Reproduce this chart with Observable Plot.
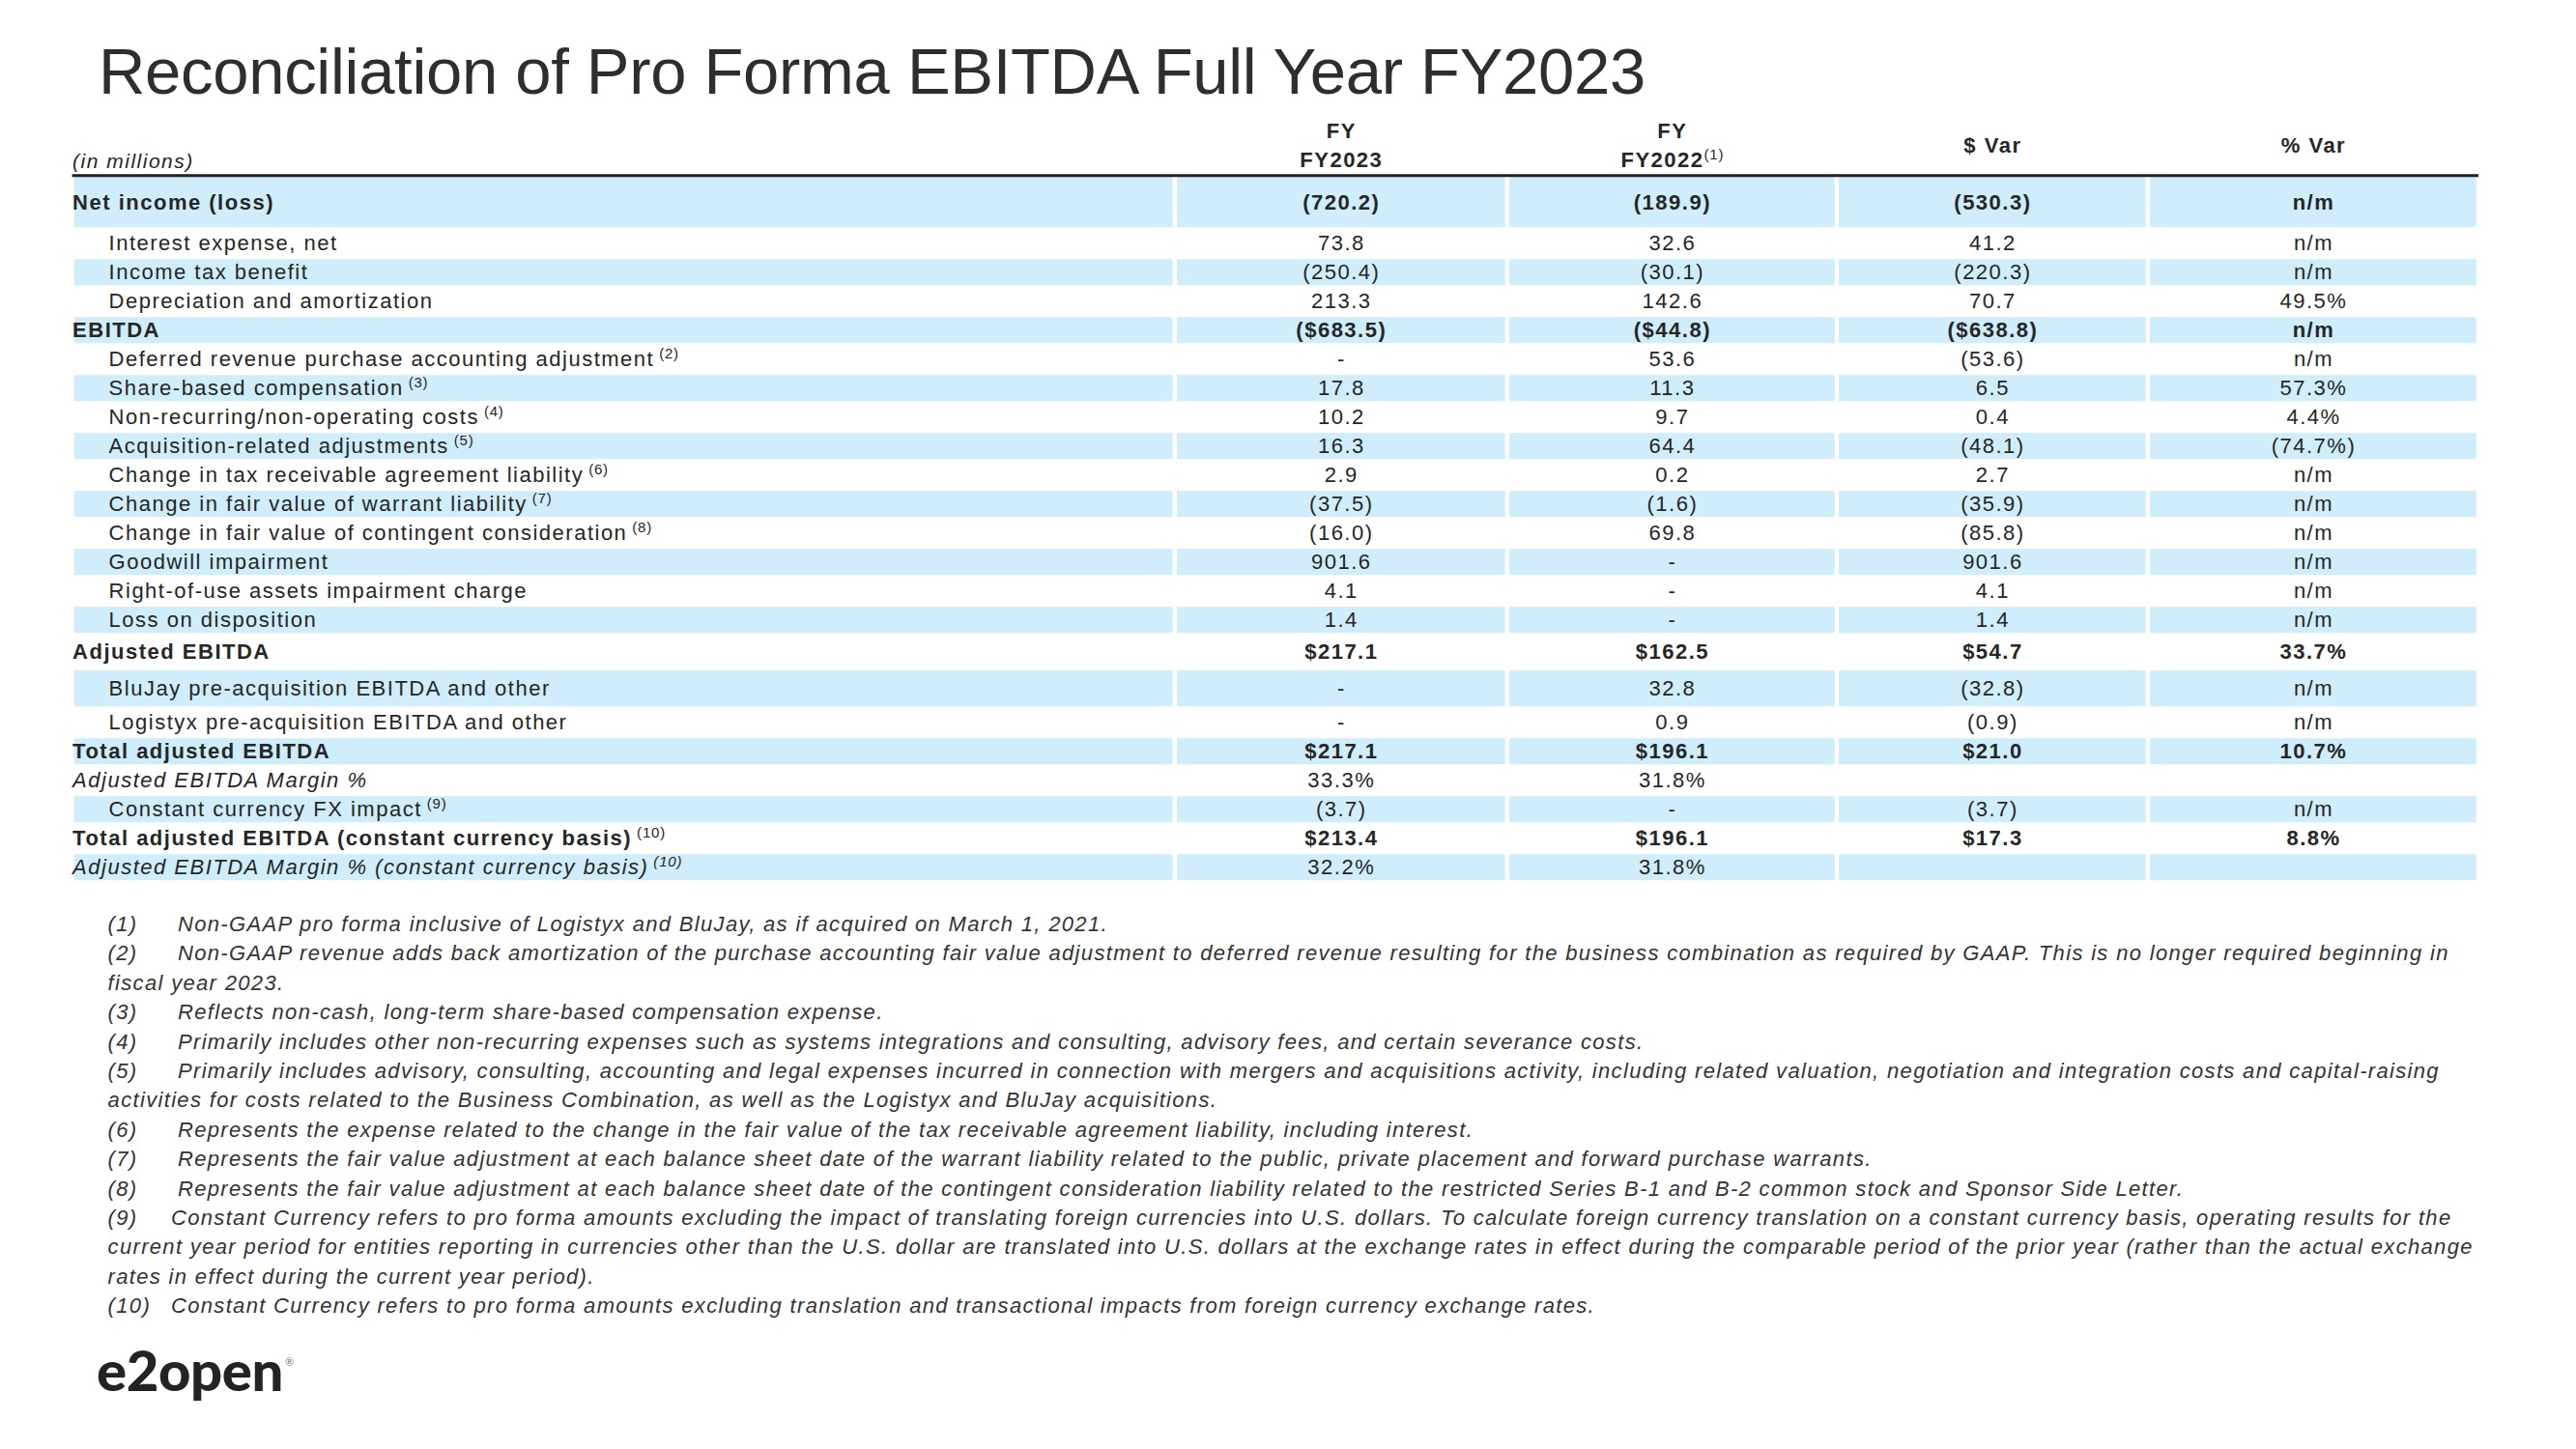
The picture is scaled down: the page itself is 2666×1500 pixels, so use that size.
<!DOCTYPE html>
<html>
<head>
<meta charset="utf-8">
<script src="https://cdn.jsdelivr.net/npm/d3@7"></script>
<script src="https://cdn.jsdelivr.net/npm/@observablehq/plot@0.6"></script>
<style>
  html, body { margin: 0; padding: 0; background: #fff; }
  #page { position: relative; width: 2666px; height: 1500px; overflow: hidden; font-family: 'Liberation Sans', Arial, sans-serif; }
  #title { position: absolute; left: 102px; top: 40px; font-size: 67px; line-height: 67px; letter-spacing: -0.3px; color: #2e2e2e; white-space: nowrap; }
  #table { position: absolute; left: 0; top: 115px; width: 2666px; }
  #notes { position: absolute; left: 111.6px; top: 942px; font-style: italic; font-size: 22px; line-height: 30.4px; letter-spacing: 1.33px; color: #333; }
  #notes .line { white-space: pre; height: 30.4px; }
  #notes .num { display: inline-block; }
  #logo { position: absolute; left: 100px; top: 1389px; font-family: Lato, Roboto, 'Liberation Sans', sans-serif; font-weight: 900; font-size: 58px; line-height: 58px; letter-spacing: -0.4px; color: #232323; white-space: nowrap; }
  #logo .reg { font-size: 11px; font-weight: 400; color: #777; position: relative; top: -26px; margin-left: 2px; letter-spacing: 0; }
</style>
</head>
<body>
<div id="page">
  <div id="title"></div>
  <div id="table"></div>
  <div id="notes"></div>
  <div id="logo">e2open<span class="reg">®</span></div>
</div>
<script>
// ---------------- DATA ----------------
const title = "Reconciliation of Pro Forma EBITDA Full Year FY2023";
const unitNote = "(in millions)";
const columns = ["FY2023", "FY2022", "$ Var", "% Var"];
const columnHeaders = ["FY\nFY2023", "FY\nFY2022", "$ Var", "% Var"];
const headerNotes = [null, 1, null, null];

const rowLabels = [
  "Net income (loss)",
  "Interest expense, net",
  "Income tax benefit",
  "Depreciation and amortization",
  "EBITDA",
  "Deferred revenue purchase accounting adjustment",
  "Share-based compensation",
  "Non-recurring/non-operating costs",
  "Acquisition-related adjustments",
  "Change in tax receivable agreement liability",
  "Change in fair value of warrant liability",
  "Change in fair value of contingent consideration",
  "Goodwill impairment",
  "Right-of-use assets impairment charge",
  "Loss on disposition",
  "Adjusted EBITDA",
  "BluJay pre-acquisition EBITDA and other",
  "Logistyx pre-acquisition EBITDA and other",
  "Total adjusted EBITDA",
  "Adjusted EBITDA Margin %",
  "Constant currency FX impact",
  "Total adjusted EBITDA (constant currency basis)",
  "Adjusted EBITDA Margin % (constant currency basis)"
];
// semantic row type: subtotal / line item / margin ratio
const rowKind = [
  "total", "item", "item", "item", "total",
  "item", "item", "item", "item", "item", "item", "item", "item", "item", "item",
  "total", "item", "item", "total", "margin", "item", "total", "margin"
];
const noteRefs = [null, null, null, null, null, 2, 3, 4, 5, 6, 7, 8, null, null, null, null, null, null, null, null, 9, 10, 10];

// null = "-" (or "n/m" in % Var), undefined = blank
const fy2023 = [-720.2, 73.8, -250.4, 213.3, -683.5, null, 17.8, 10.2, 16.3, 2.9, -37.5, -16.0, 901.6, 4.1, 1.4, 217.1, null, null, 217.1, 33.3, -3.7, 213.4, 32.2];
const fy2022 = [-189.9, 32.6, -30.1, 142.6, -44.8, 53.6, 11.3, 9.7, 64.4, 0.2, -1.6, 69.8, null, null, null, 162.5, 32.8, 0.9, 196.1, 31.8, null, 196.1, 31.8];
const dollarVar = [-530.3, 41.2, -220.3, 70.7, -638.8, -53.6, 6.5, 0.4, -48.1, 2.7, -35.9, -85.8, 901.6, 4.1, 1.4, 54.7, -32.8, -0.9, 21.0, undefined, -3.7, 17.3, undefined];
const pctVar = [null, null, null, 49.5, null, null, 57.3, 4.4, -74.7, null, null, null, null, null, null, 33.7, null, null, 10.7, undefined, null, 8.8, undefined];
const dollarRows = ["EBITDA", "Adjusted EBITDA", "Total adjusted EBITDA", "Total adjusted EBITDA (constant currency basis)"];

const footnotes = [
  "Non-GAAP pro forma inclusive of Logistyx and BluJay, as if acquired on March 1, 2021.",
  "Non-GAAP revenue adds back amortization of the purchase accounting fair value adjustment to deferred revenue resulting for the business combination as required by GAAP. This is no longer required beginning in\nfiscal year 2023.",
  "Reflects non-cash, long-term share-based compensation expense.",
  "Primarily includes other non-recurring expenses such as systems integrations and consulting, advisory fees, and certain severance costs.",
  "Primarily includes advisory, consulting, accounting and legal expenses incurred in connection with mergers and acquisitions activity, including related valuation, negotiation and integration costs and capital-raising\nactivities for costs related to the Business Combination, as well as the Logistyx and BluJay acquisitions.",
  "Represents the expense related to the change in the fair value of the tax receivable agreement liability, including interest.",
  "Represents the fair value adjustment at each balance sheet date of the warrant liability related to the public, private placement and forward purchase warrants.",
  "Represents the fair value adjustment at each balance sheet date of the contingent consideration liability related to the restricted Series B-1 and B-2 common stock and Sponsor Side Letter.",
  "Constant Currency refers to pro forma amounts excluding the impact of translating foreign currencies into U.S. dollars. To calculate foreign currency translation on a constant currency basis, operating results for the\ncurrent year period for entities reporting in currencies other than the U.S. dollar are translated into U.S. dollars at the exchange rates in effect during the comparable period of the prior year (rather than the actual exchange\nrates in effect during the current year period).",
  "Constant Currency refers to pro forma amounts excluding translation and transactional impacts from foreign currency exchange rates."
];

// ---------------- LAYOUT (sizes, not data) ----------------
const colWidths = [1141, 344, 341, 322, 342];          // label column + 4 value columns
const rowSpan = {"Net income (loss)": 1.85, "Adjusted EBITDA": 1.19, "BluJay pre-acquisition EBITDA and other": 1.35};
const blue = "#cfedfa";
const ink = "#262626";

// ---------------- BUILD ----------------
const colStarts = d3.cumsum([0, ...colWidths.slice(0, -1)]);
const tableWidth = d3.sum(colWidths);

let acc = 0;
const rows = rowLabels.map((label, i) => {
  const span = rowSpan[label] ?? 1;
  const r = {i, label, kind: rowKind[i], top: acc, bottom: acc + span, mid: acc + span / 2};
  acc += span;
  return r;
});
const tableHeight = acc;

function fmt(v, col, row) {
  if (v === undefined) return "";
  if (v === null) return col === "% Var" ? "n/m" : "-";
  const a = Math.abs(v).toFixed(1);
  if (row.kind === "margin" || col === "% Var") return v < 0 ? `(${a}%)` : `${a}%`;
  const s = dollarRows.includes(row.label) ? "$" + a : a;
  return v < 0 ? `(${s})` : s;
}

const series = [fy2023, fy2022, dollarVar, pctVar];
const cells = [];
rows.forEach(r => {
  columns.forEach((col, c) => {
    cells.push({x: colStarts[c + 1] + colWidths[c + 1] / 2, y: r.mid, kind: r.kind, text: fmt(series[c][r.i], col, r)});
  });
});

const bands = [];
rows.filter(r => r.i % 2 === 0).forEach(r => {
  colWidths.forEach((w, c) => bands.push({x1: colStarts[c], x2: colStarts[c] + w, y1: r.top, y2: r.bottom}));
});

const headers = columns.map((col, c) => ({x: colStarts[c + 1] + colWidths[c + 1] / 2, text: columnHeaders[c]}));

document.getElementById("title").textContent = title;

const chart = Plot.plot({
  width: 2666,
  height: 820,
  marginLeft: 74.6,
  marginRight: 101,
  marginTop: 66.3,
  marginBottom: 22.3,
  x: {domain: [0, tableWidth], axis: null},
  y: {domain: [0, tableHeight], reverse: true, axis: null},
  style: `font-family: 'Liberation Sans', Arial, sans-serif; letter-spacing: 1.5px; color: ${ink}; background: white; overflow: visible;`,
  marks: [
    Plot.rect(bands, {x1: "x1", x2: "x2", y1: "y1", y2: "y2", fill: blue, insetLeft: 2.2, insetRight: 2.2, insetTop: 1.5, insetBottom: 1.5}),
    Plot.ruleY([0], {stroke: "#222", strokeWidth: 3}),
    Plot.text([unitNote], {text: d => d, frameAnchor: "top-left", textAnchor: "start", lineAnchor: "bottom", dy: -8, fontStyle: "italic", fontSize: 21}),
    Plot.text(headers, {x: "x", text: "text", frameAnchor: "top", lineAnchor: "middle", lineHeight: 1.364, dy: -33, fontWeight: "bold", fontSize: 22}),
    Plot.text(rows.filter(r => r.kind === "item"), {y: "mid", text: "label", frameAnchor: "left", textAnchor: "start", dx: 37.5, fontSize: 22}),
    Plot.text(rows.filter(r => r.kind === "total"), {y: "mid", text: "label", frameAnchor: "left", textAnchor: "start", fontWeight: "bold", fontSize: 22}),
    Plot.text(rows.filter(r => r.kind === "margin"), {y: "mid", text: "label", frameAnchor: "left", textAnchor: "start", fontStyle: "italic", fontSize: 22}),
    Plot.text(cells.filter(d => d.kind !== "total"), {x: "x", y: "y", text: "text", fontSize: 22}),
    Plot.text(cells.filter(d => d.kind === "total"), {x: "x", y: "y", text: "text", fontWeight: "bold", fontSize: 22})
  ]
});
document.getElementById("table").appendChild(chart);

// footnote reference superscripts, appended to the labels Plot drew
const SVGNS = "http://www.w3.org/2000/svg";
function addSup(el, n, lead) {
  const ts = document.createElementNS(SVGNS, "tspan");
  ts.setAttribute("dy", "-8");
  ts.setAttribute("font-size", "15");
  ts.setAttribute("font-weight", "normal");
  ts.setAttribute("letter-spacing", "0.8");
  ts.textContent = lead + "(" + n + ")";
  el.appendChild(ts);
}
const noteByLabel = new Map(rows.filter(r => noteRefs[r.i]).map(r => [r.label, noteRefs[r.i]]));
chart.querySelectorAll("text").forEach(t => {
  if (t.childElementCount === 0 && noteByLabel.has(t.textContent)) addSup(t, noteByLabel.get(t.textContent), " ");
});
const headerNoteByText = new Map(columns.map((c, i) => [c, headerNotes[i]]).filter(d => d[1]));
chart.querySelectorAll("text tspan").forEach(t => {
  if (t.childElementCount === 0 && headerNoteByText.has(t.textContent)) addSup(t, headerNoteByText.get(t.textContent), "");
});

// footnotes, one element per printed line
const notesEl = document.getElementById("notes");
footnotes.forEach((t, i) => {
  t.split("\n").forEach((line, k) => {
    const div = document.createElement("div");
    div.className = "line";
    if (k === 0) {
      const num = document.createElement("span");
      num.className = "num";
      num.style.width = (i < 8 ? 72.4 : 65.4) + "px";
      num.textContent = `(${i + 1})`;
      div.appendChild(num);
    }
    div.appendChild(document.createTextNode(line));
    notesEl.appendChild(div);
  });
});
</script>
</body>
</html>
